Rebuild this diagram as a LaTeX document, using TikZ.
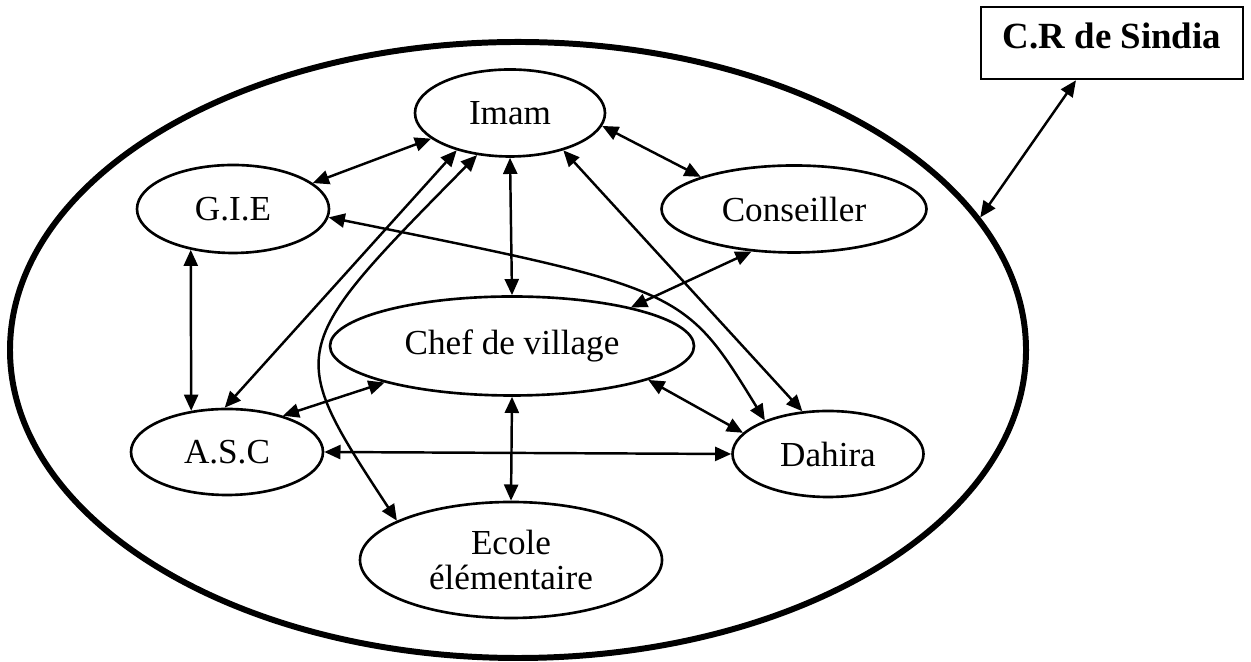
\documentclass[tikz,border=0pt]{standalone}
\usepackage{fontspec}
\setmainfont{Liberation Serif}
\usetikzlibrary{arrows.meta, shapes.geometric}

\begin{document}
\begin{tikzpicture}[
    >={Triangle[length=4.6pt,width=4pt]},
    bulle/.style={draw, ellipse, line width=0.75pt, inner sep=0pt},
    lien/.style={<->, line width=0.7pt}
  ]
    \useasboundingbox (0,0) rectangle (12.51,6.62);
    % grande ellipse du village
    \node[draw, ellipse, line width=1.7pt, minimum width=10.16cm, minimum height=6.16cm] (village) at (5.18,3.12) {};
    % acteurs du village
    \node[bulle, minimum width=1.90cm, minimum height=0.87cm] (imam) at (5.10,5.49) {Imam};
    \node[bulle, minimum width=1.92cm, minimum height=0.88cm] (gie) at (2.33,4.53) {G.I.E};
    \node[bulle, minimum width=2.65cm, minimum height=0.87cm] (conseiller) at (7.94,4.53) {Conseiller};
    \node[bulle, minimum width=3.64cm, minimum height=0.99cm] (chef) at (5.12,3.16) {Chef de village};
    \node[bulle, minimum width=1.92cm, minimum height=0.86cm] (asc) at (2.27,2.10) {A.S.C};
    \node[bulle, minimum width=1.91cm, minimum height=0.86cm] (dahira) at (8.28,2.08) {Dahira};
    \node[bulle, minimum width=3.02cm, minimum height=1.16cm, align=center] (ecole) at (5.11,1.02) {Ecole\\[-2pt]élémentaire};
    % communaute rurale
    \node[draw, line width=0.75pt, minimum width=2.62cm, minimum height=0.72cm, text depth=0.14cm,
      font=\bfseries\fontsize{10.5}{12}\selectfont] (sindia) at (11.12,6.19) {C.R de Sindia};
    % liens entre acteurs
    \draw[lien] (imam.-162) -- (gie.18);
    \draw[lien] (imam.-8) -- (conseiller.161);
    \draw[lien] (imam.south) -- (chef.north);
    \draw[lien] (imam.-145) -- (asc.93);
    \draw[lien] (imam.-128) .. controls (2.85,3.12) .. (ecole.161);
    \draw[lien] (imam.-35) -- (dahira.121);
    \draw[lien] (gie.224) -- (asc.131);
    \draw[lien] (gie.-5) .. controls (6.84,3.73) .. (dahira.152);
    \draw[lien] (conseiller.225) -- (chef.18);
    \draw[lien] (chef.196) -- (asc.33);
    \draw[lien] (chef.-14) -- (dahira.166);
    \draw[lien] (chef.south) -- (ecole.north);
    \draw[lien] (asc.east) -- (dahira.west);
    \draw[lien] (sindia.-134) -- (village.16);
  \end{tikzpicture}
\end{document}
